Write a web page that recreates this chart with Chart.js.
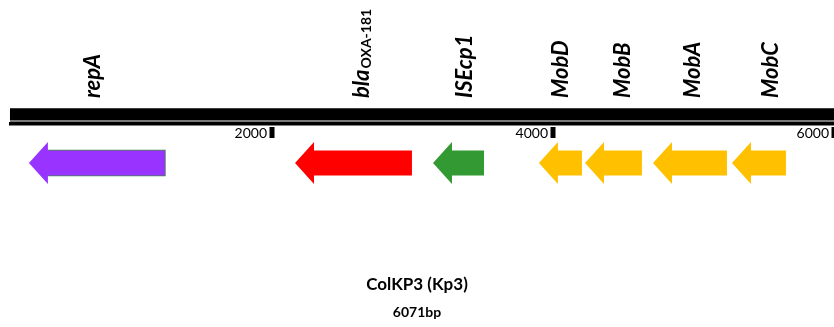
<!DOCTYPE html>
<html>
<head>
<meta charset="utf-8">
<script src="https://cdn.jsdelivr.net/npm/chart.js@4.4.0/dist/chart.umd.min.js"></script>
<style>
    html, body { margin: 0; padding: 0; background: #fff; }
    #wrap { width: 834px; height: 327px; }
</style>
</head>
<body>
<div id="wrap"><canvas id="mapChart" width="834" height="327"></canvas></div>
<script>
// gene map data (bp)
const genes = ["repA", "bla", "ISEcp1", "MobD", "MobB", "MobA", "MobC"];
const geneSubs = ["", "OXA-181", "", "", "", "", ""];
const geneTip = [270, 2164, 3146, 3900, 4228, 4712, 5274];
const geneEnd = [1238, 2996, 3509, 4206, 4633, 5238, 5658];
const labelPos = [719, 2633, 3366, 4050, 4491, 4989, 5544];
const geneColors = ["#9933ff", "#ff0000", "#339933", "#ffc000", "#ffc000", "#ffc000", "#ffc000"];
const tickValues = [2000, 4000, 6000];
const backboneStart = 135;
const plasmidName = "ColKP3 (Kp3)";
const plasmidSize = 6071;

// layout (y scale runs top -> bottom)
const rowY = 163;
const bodyHalf = 12.5;
const headHalf = 21;
const headLen = 135;

function arrowPoints(i) {
    const t = geneTip[i], e = geneEnd[i], h = t + headLen;
    return [
        { x: t, y: rowY },
        { x: h, y: rowY - headHalf },
        { x: h, y: rowY - bodyHalf },
        { x: e, y: rowY - bodyHalf },
        { x: e, y: rowY + bodyHalf },
        { x: h, y: rowY + bodyHalf },
        { x: h, y: rowY + headHalf },
        { x: t, y: rowY }
    ];
}

const datasets = [];

// backbone: thick band, grey seam, thin line
datasets.push({
    data: [{ x: backboneStart, y: 114.2 }, { x: plasmidSize, y: 114.2 }],
    borderColor: "#000", borderWidth: 11.8, borderCapStyle: "butt"
});
datasets.push({
    data: [{ x: backboneStart, y: 121 }, { x: plasmidSize, y: 121 }],
    borderColor: "#7a7a7a", borderWidth: 2, borderCapStyle: "butt"
});
datasets.push({
    data: [{ x: backboneStart - 7, y: 123.8 }, { x: plasmidSize, y: 123.8 }],
    borderColor: "#000", borderWidth: 3.6, borderCapStyle: "butt"
});

genes.forEach(function (g, i) {
    datasets.push({
        data: arrowPoints(i),
        backgroundColor: geneColors[i],
        fill: "shape",
        borderWidth: 0,
        borderColor: geneColors[i]
    });
});

// thin green outline round the repA body
datasets.push({
    data: arrowPoints(0).slice(2, 6),
    borderColor: "#3f8f3f",
    borderWidth: 1.5,
    fill: false
});

const mapText = {
    id: "mapText",
    afterDatasetsDraw(chart) {
        const ctx = chart.ctx;
        const xs = chart.scales.x;

        // scale ticks
        tickValues.forEach(function (v) {
            const px = xs.getPixelForValue(v);
            ctx.fillStyle = "#000";
            ctx.fillRect(px - 2.5, 127, 5, 11);
            ctx.font = "14px Lato";
            ctx.textAlign = "right";
            ctx.textBaseline = "middle";
            ctx.fillText(String(v), px - 5, 133);
        });

        // gene labels
        genes.forEach(function (g, i) {
            const px = xs.getPixelForValue(labelPos[i]);
            ctx.save();
            ctx.translate(px, 98);
            ctx.rotate(-Math.PI / 2);
            ctx.fillStyle = "#000";
            ctx.textAlign = "left";
            ctx.textBaseline = "alphabetic";
            ctx.font = "italic bold 22px Lato";
            ctx.fillText(g, 0, 8);
            if (geneSubs[i]) {
                const w = ctx.measureText(g).width;
                ctx.font = "bold 14px Lato";
                ctx.fillText(geneSubs[i], w + 1, 10);
            }
            ctx.restore();
        });

        // name + size
        ctx.fillStyle = "#000";
        ctx.textAlign = "center";
        ctx.textBaseline = "middle";
        ctx.font = "bold 17px Lato";
        ctx.fillText(plasmidName, chart.width / 2, 285);
        ctx.font = "bold 14px Lato";
        ctx.fillText(plasmidSize + "bp", chart.width / 2, 312);
    }
};

new Chart(document.getElementById("mapChart"), {
    type: "scatter",
    data: { datasets: datasets },
    options: {
        responsive: false,
        animation: false,
        layout: { padding: 0 },
        elements: {
            point: { radius: 0, hoverRadius: 0 },
            line: { tension: 0 }
        },
        datasets: { scatter: { showLine: true } },
        plugins: {
            legend: { display: false },
            tooltip: { enabled: false }
        },
        scales: {
            x: { type: "linear", min: 64, max: 6000, display: false },
            y: { type: "linear", min: 0, max: 327, reverse: true, display: false }
        }
    },
    plugins: [mapText]
});
</script>
</body>
</html>
